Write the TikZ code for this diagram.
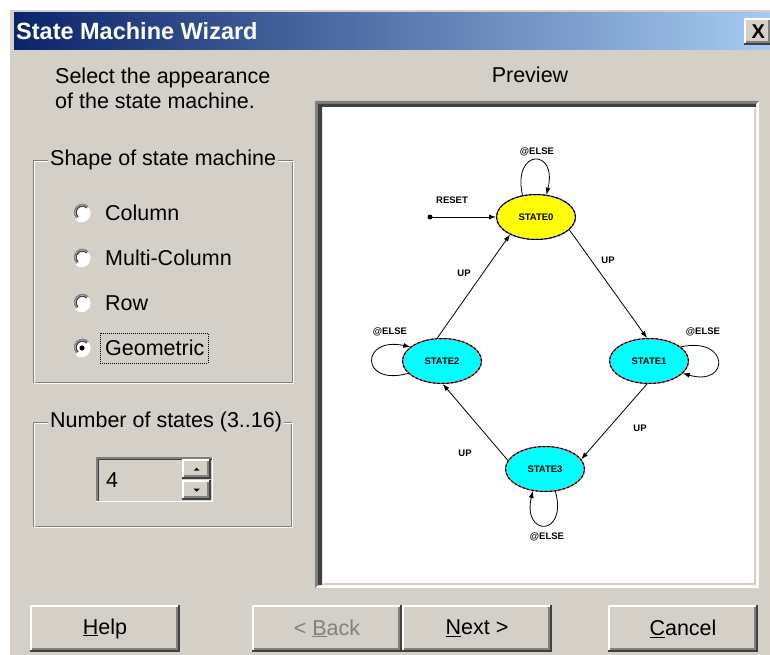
\documentclass[tikz,border=0pt]{standalone}
\usepackage{fontspec}
\setmainfont{Liberation Sans}
\usetikzlibrary{shapes.geometric,arrows.meta}
\definecolor{dlg}{HTML}{D4D0C8}
\definecolor{shd}{HTML}{808080}
\definecolor{dk}{HTML}{404040}
\definecolor{tbl}{HTML}{0A246A}
\definecolor{tbr}{HTML}{A6CAF0}
\definecolor{stcyan}{HTML}{00FFFF}
\definecolor{styellow}{HTML}{FFFF00}
\definecolor{stred}{HTML}{FF0000}
\definecolor{stblue}{HTML}{0000FF}
\newcommand\raisedbevel[1]{%
  \draw[white, line width=2pt] ([xshift=1pt,yshift=2pt]#1.south west) -- ([xshift=1pt,yshift=-1pt]#1.north west) -- ([xshift=-2pt,yshift=-1pt]#1.north east);
  \draw[dk, line width=2pt] ([yshift=1pt]#1.south west) -- ([xshift=-1pt,yshift=1pt]#1.south east) -- ([xshift=-1pt]#1.north east);
  \draw[shd, line width=2pt] ([xshift=2pt,yshift=3pt]#1.south west) -- ([xshift=-3pt,yshift=3pt]#1.south east) -- ([xshift=-3pt,yshift=-2pt]#1.north east);
}
\newcommand\sunkenbevel[1]{%
  \draw[shd, line width=1.5pt] ([xshift=0.75pt]#1.south west) -- ([xshift=0.75pt,yshift=-0.75pt]#1.north west) -- ([yshift=-0.75pt]#1.north east);
  \draw[dk, line width=1.5pt] ([xshift=2.25pt,yshift=1.5pt]#1.south west) -- ([xshift=2.25pt,yshift=-2.25pt]#1.north west) -- ([xshift=-1.5pt,yshift=-2.25pt]#1.north east);
  \draw[white, line width=1.5pt] ([yshift=0.75pt]#1.south west) -- ([xshift=-0.75pt,yshift=0.75pt]#1.south east) -- ([xshift=-0.75pt]#1.north east);
}
\begin{document}
\begin{tikzpicture}[x=1pt,y=-1pt,
  font=\fontsize{21.5}{25}\selectfont,
  lbl/.style={anchor=west, inner sep=0pt},
  grptitle/.style={anchor=west, fill=dlg, inner xsep=2pt, inner ysep=0pt},
  radio/.style={circle, fill=white, minimum size=17pt, inner sep=0pt},
  winbtn/.style={fill=dlg, minimum width=150pt, minimum height=47pt, inner sep=0pt},
  st/.style={ellipse, minimum width=79pt, minimum height=45pt, inner sep=0pt, line width=1pt,
    font=\fontsize{9.5}{10}\selectfont\bfseries,
    postaction={draw=black, dash pattern=on 2.5pt off 2pt, line width=1pt}},
  tr/.style={-{Latex[length=7pt,width=5pt]}, line width=0.8pt},
  tl/.style={font=\fontsize{9.5}{10}\selectfont\bfseries, inner sep=0pt},
]
\useasboundingbox (0,0) rectangle (770,655);
\fill[white] (0,0) rectangle (770,655);
\fill[dlg] (8,8) rectangle (770,655);
\draw[white, line width=1.5pt] (9,655) -- (9,9) -- (770,9);
% title bar
\shade[left color=tbl, right color=tbr] (14,13) rectangle (770,50);
\node[anchor=west, text=white, font=\fontsize{23.5}{25}\selectfont\bfseries, inner sep=0pt] (title) at (16,31) {State Machine Wizard};
\node[winbtn, minimum width=28pt, minimum height=27pt, anchor=north west, font=\fontsize{20}{20}\selectfont\bfseries] (close) at (744,18) {X};
\raisedbevel{close}
% intro
\node[lbl, align=left] (intro) at (55,88) {Select the appearance\\of the state machine.};
% group 1
\draw[shd] (33,160) rectangle (292,382);
\draw[white] (34,161) rectangle (293,383);
\node[grptitle] (g1) at (48,160) {Shape of state machine};
\foreach \i/\yy/\t in {1/213/Column, 2/258/Multi-Column, 3/303/Row, 4/348/Geometric}{
  \node[radio] (r\i) at (82,\yy) {};
  \draw[shd, line width=1.5pt] (r\i.45) arc[start angle=45, end angle=225, radius=8pt];
  \draw[dk, line width=1.2pt] ([xshift=-1.2pt,yshift=-1.2pt]r\i.45) arc[start angle=45, end angle=225, radius=6.3pt];
  \draw[white, line width=1.5pt] (r\i.225) arc[start angle=225, end angle=405, radius=8pt];
  \node[lbl] (l\i) at (105,\yy) {\t};
}
\fill (r4) circle[radius=2.6pt];
\draw[black, dash pattern=on 1pt off 1pt] (100,333) rectangle (208,363);
% group 2
\draw[shd] (33,422) rectangle (291,526);
\draw[white] (34,423) rectangle (292,527);
\node[grptitle] (g2) at (48,422) {Number of states (3..16)};
\node[fill=dlg, minimum width=117pt, minimum height=45pt, anchor=north west, inner sep=0pt] (edit) at (96,457) {};
\sunkenbevel{edit}
\node[lbl] (num) at (106,480) {4};
\node[winbtn, minimum width=29pt, minimum height=20pt, anchor=north west] (up) at (182,459) {};
\node[winbtn, minimum width=29pt, minimum height=20pt, anchor=north west] (down) at (182,480) {};
\raisedbevel{up}
\raisedbevel{down}
\fill ([xshift=-3pt,yshift=-1.5pt]up.center) -- ([xshift=3pt,yshift=-1.5pt]up.center) -- ([yshift=1.5pt]up.center) -- cycle;
\fill ([xshift=-3pt,yshift=1.5pt]down.center) -- ([xshift=3pt,yshift=1.5pt]down.center) -- ([yshift=-1.5pt]down.center) -- cycle;
% preview
\node (pvtitle) at (530,75) {Preview};
\fill[white] (315,101) rectangle (759,588);
\fill[shd] (315,101) -- (759,101) -- (756,104) -- (318,104) -- (318,585) -- (315,588) -- cycle;
\fill[dk] (318,104) -- (756,104) -- (756,107) -- (322,107) -- (322,585) -- (318,585) -- cycle;
\fill[dlg] (322,585) -- (756,585) -- (756,107) -- (754,109) -- (754,583) -- (324,583) -- cycle;
% states
\node[st, fill=styellow, draw=stblue] (s0) at (536,217) {STATE0};
\node[st, fill=stcyan, draw=stred] (s1) at (649,361) {STATE1};
\node[st, fill=stcyan, draw=stred] (s2) at (442,361) {STATE2};
\node[st, fill=stcyan, draw=stred] (s3) at (545,469) {STATE3};
\coordinate (rst) at (430,217);
\fill (rst) circle[radius=2.5pt];
\draw[tr] (rst) -- (s0.west);
\node[tl] (lreset) at (452,200) {RESET};
\draw[tr] (s0.-21) -- (s1.95);
\node[tl] (u1) at (608,260) {UP};
\draw[tr] (s1.-95) -- (s3.15);
\node[tl] (u2) at (640,428) {UP};
\draw[tr] (s3.167) -- (s2.-88);
\node[tl] (u3) at (465,453) {UP};
\draw[tr] (s2.102) -- (s0.-146);
\node[tl] (u4) at (464,273) {UP};
% self loops
\draw[tr] (s0.122) .. controls (512,148) and (558,148) .. (s0.65);
\node[tl] (e0) at (537,152) {@ELSE};
\draw[tr] (s1.24) .. controls (730,336) and (730,387) .. (s1.-20);
\node[tl] (e1) at (703,332) {@ELSE};
\draw[tr] (s2.-160) .. controls (360,387) and (360,336) .. (s2.156);
\node[tl] (e2) at (390,332) {@ELSE};
\draw[tr] (s3.-65) .. controls (568,537) and (522,537) .. (s3.-119);
\node[tl] (e3) at (547,537) {@ELSE};
% buttons
\node[winbtn] (help) at (105,628.5) {\underline{H}elp};
\node[winbtn, text=shd] (back) at (327,628.5) {< \underline{B}ack};
\node[winbtn] (next) at (477,628.5) {\underline{N}ext >};
\node[winbtn] (cancel) at (683,628.5) {\underline{C}ancel};
\raisedbevel{help}
\raisedbevel{back}
\raisedbevel{next}
\raisedbevel{cancel}
\end{tikzpicture}
\end{document}
